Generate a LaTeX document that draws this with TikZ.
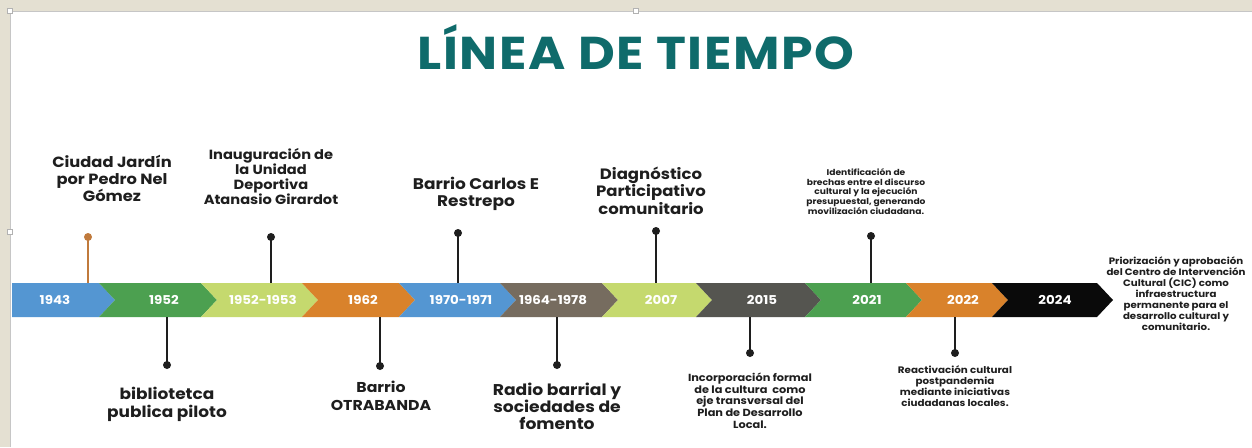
\documentclass[tikz,border=0pt]{standalone}
\usepackage{fontspec}
\setmainfont{Poppins}[FakeStretch=1.1]
\definecolor{bgbeige}{HTML}{E4E0D2}
\definecolor{segblue}{HTML}{5496D2}
\definecolor{seggreen}{HTML}{4CA050}
\definecolor{seglime}{HTML}{C5D96E}
\definecolor{segorange}{HTML}{D9822B}
\definecolor{segbrown}{HTML}{766C5F}
\definecolor{seggray}{HTML}{555550}
\definecolor{segblack}{HTML}{0A0A0A}
\definecolor{pinorange}{HTML}{C07A3C}
\definecolor{teal}{HTML}{0F6B6B}
\definecolor{txt}{HTML}{1E1E1E}
\tikzset{
  yearlbl/.style={text=white, font=\bfseries\fontsize{12.2}{14}\selectfont, inner sep=0pt},
  pindot/.style={circle, fill=txt, minimum size=8pt, inner sep=0pt},
  pinline/.style={line width=2.6pt, draw=txt},
  evtext/.style={text=txt, align=center, inner sep=0pt},
  handle/.style={draw=gray!60, fill=white, minimum size=5pt, inner sep=0pt, line width=0.6pt}
}
\newcommand{\chev}[3]{% left, right, color
  \fill[#3] (#1,283) -- (#2,283) -- (#2+16,300) -- (#2,317) -- (#1,317) -- (#1+16,300) -- cycle;}
\begin{document}
\begin{tikzpicture}[x=1pt,y=-1pt]
\useasboundingbox (0,0) rectangle (1252,447);
\fill[bgbeige] (0,0) rectangle (1252,447);
\fill[white] (10,11) rectangle (1252,447);
\draw[gray!45, line width=0.8pt] (10,447) -- (10,11) -- (1252,11);
\node[handle] (h1) at (10,11) {};
\node[handle] (h2) at (636,11) {};
\node[handle] (h3) at (10,232) {};

% title
\node[text=teal, font=\bfseries\fontsize{46}{52}\selectfont\addfontfeature{LetterSpace=3.5}, inner sep=0pt] (title) at (636,47) {LÍNEA DE TIEMPO};

% bar
\fill[segblue] (12,283) -- (99,283) -- (115,300) -- (99,317) -- (12,317) -- cycle;
\chev{99}{201}{seggreen}
\chev{201}{302}{seglime}
\chev{302}{399}{segorange}
\chev{399}{500}{segblue}
\chev{500}{602}{segbrown}
\chev{602}{696}{seglime}
\chev{696}{805}{seggray}
\chev{805}{906}{seggreen}
\chev{906}{992}{segorange}
\chev{992}{1097}{segblack}

\node[yearlbl] (y1) at (55,300) {1943};
\node[yearlbl] (y2) at (164,300) {1952};
\node[yearlbl] (y3) at (263,300) {1952-1953};
\node[yearlbl] (y4) at (363,300) {1962};
\node[yearlbl] (y5) at (461,300) {1970-1971};
\node[yearlbl] (y6) at (553,300) {1964-1978};
\node[yearlbl] (y7) at (661,300) {2007};
\node[yearlbl] (y8) at (762,300) {2015};
\node[yearlbl] (y9) at (867,300) {2021};
\node[yearlbl] (y10) at (963,300) {2022};
\node[yearlbl] (y11) at (1055,300) {2024};

% pins above
\coordinate (t1) at (88,283);
\coordinate (t3) at (271,283);
\coordinate (t5) at (458,283);
\coordinate (t7) at (656,283);
\coordinate (t9) at (871,283);
\node[pindot, fill=pinorange] (d1) at (88,237) {};
\node[pindot] (d3) at (271,237) {};
\node[pindot] (d5) at (458,233) {};
\node[pindot] (d7) at (656,231) {};
\node[pindot] (d9) at (871,236) {};
\draw[pinline, draw=pinorange, line width=2pt] (d1.center) -- (t1);
\draw[pinline] (d3.center) -- (t3);
\draw[pinline] (d5.center) -- (t5);
\draw[pinline] (d7.center) -- (t7);
\draw[pinline] (d9.center) -- (t9);

% pins below
\coordinate (b2) at (167,317);
\coordinate (b4) at (380,317);
\coordinate (b6) at (557,317);
\coordinate (b8) at (750,317);
\coordinate (b10) at (955,317);
\node[pindot] (d2) at (167,365) {};
\node[pindot] (d4) at (380,366) {};
\node[pindot] (d6) at (557,365) {};
\node[pindot] (d8) at (750,353) {};
\node[pindot] (d10) at (955,353) {};
\draw[pinline] (b2) -- (d2.center);
\draw[pinline] (b4) -- (d4.center);
\draw[pinline] (b6) -- (d6.center);
\draw[pinline] (b8) -- (d8.center);
\draw[pinline] (b10) -- (d10.center);

% event texts above
\node[evtext, font=\bfseries\fontsize{14.8}{17}\selectfont] (e1) at (112,178) {Ciudad Jardín\\por Pedro Nel\\Gómez};
\node[evtext, font=\bfseries\fontsize{13.3}{15}\selectfont] (e3) at (271,176.5) {Inauguración de\\la Unidad\\Deportiva\\Atanasio Girardot};
\node[evtext, font=\bfseries\fontsize{15.4}{17}\selectfont] (e5) at (476,193.5) {Barrio Carlos E\\Restrepo};
\node[evtext, font=\bfseries\fontsize{15}{17.5}\selectfont] (e7) at (651,190.5) {Diagnóstico\\Participativo\\comunitario};
\node[evtext, font=\bfseries\fontsize{8.3}{9.7}\selectfont] (e9) at (866,191.5) {Identificación de\\brechas entre el discurso\\cultural y la ejecución\\presupuestal, generando\\movilización ciudadana.};
\node[evtext, font=\bfseries\fontsize{9.3}{11}\selectfont] (e11) at (1176,293.5) {Priorización y aprobación\\del Centro de Intervención\\Cultural (CIC) como\\infraestructura\\permanente para el\\desarrollo cultural y\\comunitario.};

% event texts below
\node[evtext, font=\bfseries\fontsize{15.4}{18}\selectfont] (e2) at (167,404) {bibliotetca\\publica piloto};
\node[evtext, font=\bfseries\fontsize{14.3}{18}\selectfont] (e4) at (381,396) {Barrio\\OTRABANDA};
\node[evtext, font=\bfseries\fontsize{15.6}{17}\selectfont] (e6) at (557,406) {Radio barrial y\\sociedades de\\fomento};
\node[evtext, font=\bfseries\fontsize{10.3}{11.7}\selectfont] (e8) at (750,400.5) {Incorporación formal\\de la cultura\ \ como\\eje transversal del\\Plan de Desarrollo\\Local.};
\node[evtext, font=\bfseries\fontsize{9.4}{11}\selectfont] (e10) at (955,386.5) {Reactivación cultural\\postpandemia\\mediante iniciativas\\ciudadanas locales.};
\end{tikzpicture}
\end{document}
